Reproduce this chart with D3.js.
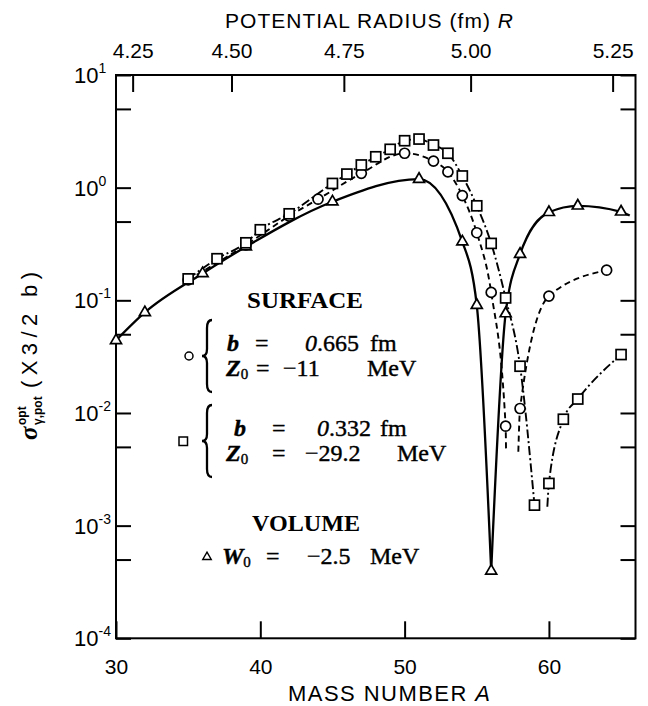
<!DOCTYPE html>
<html><head><meta charset="utf-8">
<script src="https://cdn.jsdelivr.net/npm/d3@7/dist/d3.min.js"></script>
<style>body{margin:0;background:#fff}svg{display:block}</style>
</head><body>
<svg id="chart" width="648" height="706"></svg>
<script>
// ---------------- data ----------------
const triangleA = [30, 32, 36, 39, 45, 51, 54, 55, 56, 57, 58, 60, 62, 65];
const triangleV = [0.044, 0.078, 0.173, 0.299, 0.75, 1.19, 0.331, 0.0906, 0.000396, 0.0763, 0.257, 0.604, 0.69, 0.61];
const triangleEndA = [65.6];
const triangleEndV = [0.565];

const circleA = [35, 39, 42, 44, 47, 50, 52, 53, 54, 55, 56, 57, 58, 60, 64];
const circleV = [0.152, 0.31, 0.56, 0.79, 1.34, 2.02, 1.72, 1.38, 0.85, 0.398, 0.1175, 0.00763, 0.01096, 0.109, 0.185];
const circleDipA = [57.03, 57.88];      // where the dashed curve is cut off in the dip
const circleDipV = [0.00453, 0.00453];

const squareA = [35, 37, 39, 40, 42, 45, 46, 47, 48, 49, 50, 51, 52, 53, 54, 55, 56, 57, 58, 59, 60, 61, 62, 65];
const squareV = [0.155, 0.234, 0.324, 0.423, 0.586, 1.09, 1.32, 1.59, 1.88, 2.19, 2.61, 2.70, 2.39, 2.02, 1.27, 0.69, 0.32, 0.105, 0.026, 0.00152, 0.00237, 0.0088, 0.0133, 0.033];
const squareDipA = [59.89];
const squareDipV = [0.00147];

const massTicks = [30, 40, 50, 60];
const radiusTicks = [4.25, 4.50, 4.75, 5.00, 5.25];
const decadeExponents = [1, 0, -1, -2, -3, -4];
const minorMantissa = 5;
// R = 1.16 A^(1/3) + 0.6  (fm)
const radiusSlope = 1.16, radiusOffset = 0.6;

// ---------------- setup ----------------
const svg = d3.select("#chart");
const sans = "'Liberation Sans', Arial, sans-serif";
const serif = "'Liberation Serif', 'Times New Roman', serif";

const x = d3.scaleLinear().domain([30, 66]).range([116, 635.5]);
const y = d3.scaleLog().domain([1e-4, 10]).range([638.3, 75]);
const [x0, x1] = x.range();
const [yB, yT] = y.range();

const pts = (A, V) => A.map((a, i) => [a, V[i]]);
const tri = pts(triangleA, triangleV);
const cir = pts(circleA, circleV);
const sq = pts(squareA, squareV);

// ---------------- axes ----------------
function styleAxis(g) {
  g.select(".domain").remove();
  g.selectAll("line").attr("stroke", "#000").attr("stroke-width", 2);
  g.selectAll("text").attr("font-family", sans).attr("font-size", 21).attr("fill", "#000");
}
const bottomAxis = svg.append("g").attr("transform", `translate(0,${yB})`)
  .call(d3.axisBottom(x).tickValues(massTicks).tickSize(-17).tickSizeOuter(0).tickPadding(21).tickFormat(d3.format("d")));
styleAxis(bottomAxis);

const rToA = r => Math.pow((r - radiusOffset) / radiusSlope, 3);
const topAxis = svg.append("g").attr("transform", `translate(0,${yT})`)
  .call(d3.axisTop(x).tickValues(radiusTicks.map(rToA)).tickSize(-17).tickSizeOuter(0).tickPadding(17)
    .tickFormat((d, i) => radiusTicks[i].toFixed(2)));
styleAxis(topAxis);

const yTicks = [];
decadeExponents.forEach(e => {
  yTicks.push(Math.pow(10, e));
  const m = minorMantissa * Math.pow(10, e - 1);
  if (m >= 1e-4 && m <= 10) yTicks.push(m);
});
const leftAxis = svg.append("g").attr("transform", `translate(${x0},0)`)
  .call(d3.axisLeft(y).tickValues(yTicks).tickSize(-15).tickSizeOuter(0).tickFormat(""));
styleAxis(leftAxis);
const rightAxis = svg.append("g").attr("transform", `translate(${x1},0)`)
  .call(d3.axisRight(y).tickValues(yTicks).tickSize(-15).tickSizeOuter(0).tickFormat(""));
styleAxis(rightAxis);

// decade labels 10^n
const yl = svg.append("g").attr("font-family", sans).attr("fill", "#000");
decadeExponents.forEach(e => {
  const t = yl.append("text").attr("x", 74).attr("y", y(Math.pow(10, e)) + 8).attr("font-size", 22);
  t.append("tspan").text("10");
  t.append("tspan").attr("dy", -10).attr("font-size", 14).text(e < 0 ? "-" + (-e) : String(e));
});

// frame
svg.append("rect").attr("x", x0).attr("y", yT).attr("width", x1 - x0).attr("height", yB - yT)
  .attr("fill", "none").attr("stroke", "#000").attr("stroke-width", 2);

// axis titles
const tt = svg.append("text").attr("x", 225).attr("y", 28).attr("font-family", sans).attr("font-size", 21)
  .attr("textLength", 288).attr("lengthAdjust", "spacing");
tt.append("tspan").text("POTENTIAL RADIUS (fm) ");
tt.append("tspan").attr("font-style", "italic").text("R");

const bt = svg.append("text").attr("x", 288).attr("y", 701).attr("font-family", sans).attr("font-size", 22)
  .attr("textLength", 202).attr("lengthAdjust", "spacing");
bt.append("tspan").text("MASS NUMBER ");
bt.append("tspan").attr("font-style", "italic").text("A");

const ylab = svg.append("g").attr("transform", "translate(37,440) rotate(-90)");
ylab.append("text").attr("x", 0).attr("y", 0).attr("font-family", serif).attr("font-weight", "bold")
  .attr("font-style", "italic").attr("font-size", 25).text("σ");
ylab.append("text").attr("x", 15).attr("y", -11).attr("font-family", sans).attr("font-weight", "bold")
  .attr("font-size", 12).text("opt");
ylab.append("text").attr("x", 15).attr("y", 5).attr("font-family", sans).attr("font-weight", "bold")
  .attr("font-size", 12).text("γ,pot");
ylab.append("text").attr("x", 52).attr("y", 0).attr("font-family", sans).attr("font-size", 22)
  .attr("textLength", 116).attr("lengthAdjust", "spacing").text("(X3/2 b)");

// ---------------- curves ----------------
const line = d3.line().x(d => x(d[0])).y(d => y(d[1])).curve(d3.curveMonotoneX);
const curves = svg.append("g").attr("fill", "none").attr("stroke", "#000");

// triangles: solid, two branches meeting at the dip
const triMin = triangleV.indexOf(d3.min(triangleV));
curves.append("path").attr("d", line(tri.slice(0, triMin + 1))).attr("stroke-width", 2.3);
curves.append("path").attr("d", line(tri.slice(triMin).concat(pts(triangleEndA, triangleEndV)))).attr("stroke-width", 2.3);

// circles: dashed, cut in the dip
const cirSplit = circleA.indexOf(57) + 1;
curves.append("path").attr("d", line(cir.slice(0, cirSplit).concat([[circleDipA[0], circleDipV[0]]])))
  .attr("stroke-width", 1.9).attr("stroke-dasharray", "6,4");
curves.append("path").attr("d", line([[circleDipA[1], circleDipV[1]]].concat(cir.slice(cirSplit))))
  .attr("stroke-width", 1.9).attr("stroke-dasharray", "6,4");

// squares: dash-dot, cut in the dip
const sqSplit = squareA.indexOf(59) + 1;
curves.append("path").attr("d", line(sq.slice(0, sqSplit)))
  .attr("stroke-width", 1.9).attr("stroke-dasharray", "9,3,2,3");
curves.append("path").attr("d", line(pts(squareDipA, squareDipV).concat(sq.slice(sqSplit))))
  .attr("stroke-width", 1.9).attr("stroke-dasharray", "9,3,2,3");

// ---------------- markers ----------------
const triPath = s => `M0,${-s / Math.sqrt(3)}L${s / 2},${s / (2 * Math.sqrt(3))}L${-s / 2},${s / (2 * Math.sqrt(3))}Z`;
const mk = svg.append("g").attr("fill", "#fff").attr("stroke", "#000").attr("stroke-width", 1.7);
mk.selectAll("circle.c").data(cir).join("circle").attr("class", "c")
  .attr("cx", d => x(d[0])).attr("cy", d => y(d[1])).attr("r", 5);
mk.selectAll("path.t").data(tri).join("path").attr("class", "t")
  .attr("transform", d => `translate(${x(d[0])},${y(d[1])})`).attr("d", triPath(11));
mk.selectAll("rect.s").data(sq).join("rect").attr("class", "s")
  .attr("x", d => x(d[0]) - 5).attr("y", d => y(d[1]) - 5).attr("width", 10).attr("height", 10);

// ---------------- legend ----------------
const lg = svg.append("g").attr("font-family", serif).attr("fill", "#000").attr("font-size", 24);
lg.append("text").attr("x", 247).attr("y", 308).attr("font-weight", "bold")
  .attr("textLength", 116).attr("lengthAdjust", "spacingAndGlyphs").text("SURFACE");
lg.append("text").attr("x", 252).attr("y", 531).attr("font-weight", "bold")
  .attr("textLength", 108).attr("lengthAdjust", "spacingAndGlyphs").text("VOLUME");

function brace(xl, y1, y2) {
  const xm = xl + 5, xr = xl + 10, ym = (y1 + y2) / 2;
  return `M${xr},${y1} Q${xm},${y1} ${xm},${y1 + 8} L${xm},${ym - 7} Q${xm},${ym} ${xl},${ym} Q${xm},${ym} ${xm},${ym + 7} L${xm},${y2 - 8} Q${xm},${y2} ${xr},${y2}`;
}
lg.append("path").attr("d", brace(202, 320, 392)).attr("fill", "none").attr("stroke", "#000").attr("stroke-width", 2.3);
lg.append("path").attr("d", brace(202, 405, 477)).attr("fill", "none").attr("stroke", "#000").attr("stroke-width", 2.3);

lg.append("circle").attr("cx", 189).attr("cy", 356).attr("r", 4).attr("fill", "#fff").attr("stroke", "#000").attr("stroke-width", 1.5);
lg.append("rect").attr("x", 179).attr("y", 437).attr("width", 8.5).attr("height", 8.5).attr("fill", "#fff").attr("stroke", "#000").attr("stroke-width", 1.5);
lg.append("path").attr("transform", "translate(207,557)").attr("d", triPath(8.5)).attr("fill", "#fff").attr("stroke", "#000").attr("stroke-width", 1.4);

function eqLine(yb, parts) {
  parts.forEach(p => {
    const t = lg.append("text").attr("x", p[0]).attr("y", yb).attr("stroke", "#000").attr("stroke-width", 0.4);
    if (p[2]) t.attr("font-style", "italic");
    if (p[3]) t.attr("font-weight", "bold");
    t.text(p[1]);
    if (p[4]) t.append("tspan").attr("font-size", 15).attr("dy", 3).attr("font-style", "normal").attr("font-weight", "normal").text(p[4]);
  });
}
eqLine(351, [[227, "b", true, true], [255, "="], [305, "0", true], [317, ".665"], [370, "fm"]]);
eqLine(376, [[226, "Z", true, true, "0"], [256, "="], [283, "−11"], [367, "MeV"]]);
eqLine(436, [[234, "b", true, true], [272, "="], [317, "0", true], [329, ".332"], [380, "fm"]]);
eqLine(461, [[226, "Z", true, true, "0"], [272, "="], [305, "−29.2"], [397, "MeV"]]);
eqLine(564, [[222, "W", true, true, "0"], [266, "="], [307, "−2.5"], [370, "MeV"]]);
</script>
</body></html>
